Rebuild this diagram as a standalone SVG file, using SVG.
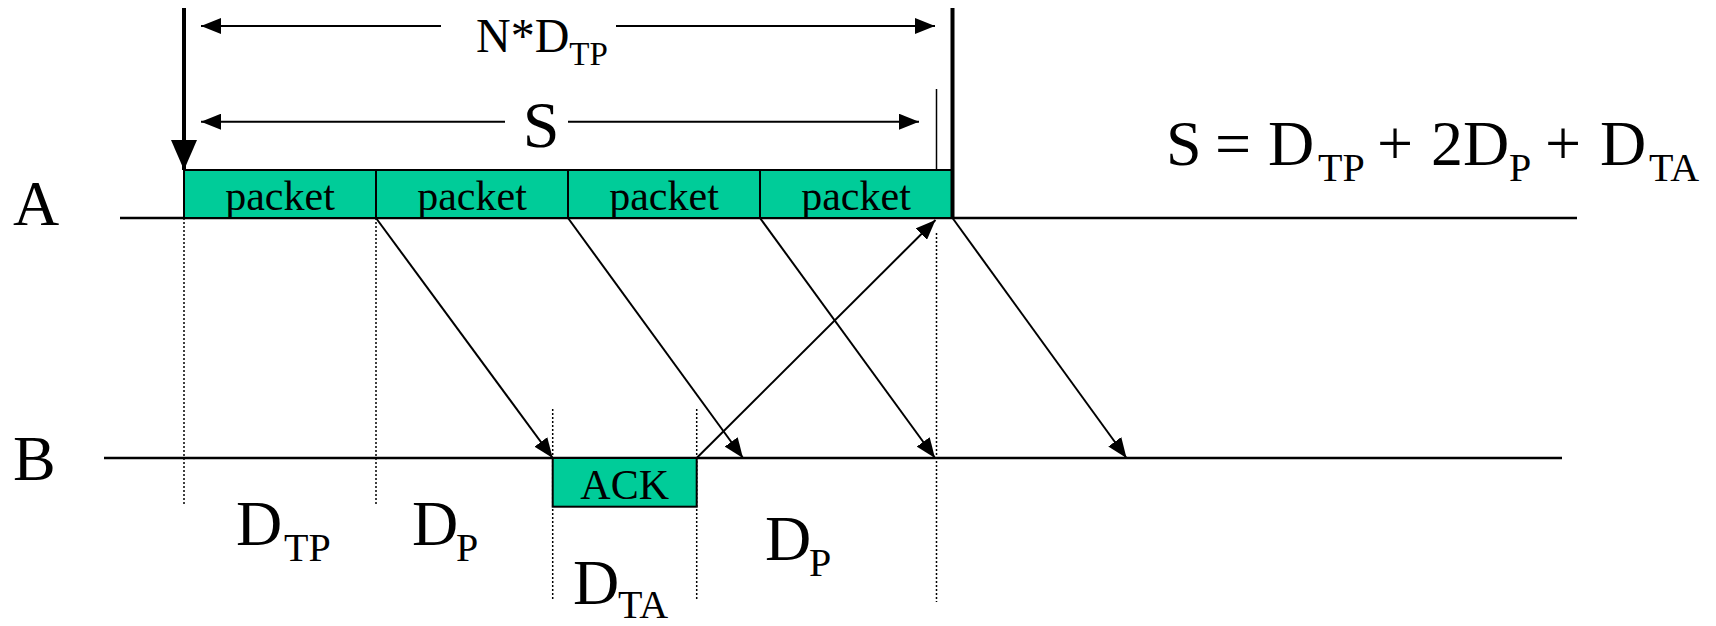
<svg xmlns="http://www.w3.org/2000/svg" width="1716" height="626" viewBox="0 0 1716 626">
<style>
text{font-family:"Liberation Serif","Times New Roman",serif;fill:#000}
.lbl{font-size:64px}
.sub{font-size:40px}
.box{fill:#00CC99;stroke:#000;stroke-width:2}
.btxt{font-size:42px;text-anchor:middle}
.axis{stroke:#000;stroke-width:2.5;fill:none}
.dot{stroke:#000;stroke-width:1.5;stroke-dasharray:2 2;fill:none}
.arr{stroke:#000;stroke-width:2;fill:none;marker-end:url(#ah)}
.dim{stroke:#000;stroke-width:2;fill:none}
</style>
<defs>
<marker id="ah" markerUnits="userSpaceOnUse" markerWidth="20" markerHeight="16" viewBox="0 0 20 16" refX="20" refY="8" orient="auto-start-reverse">
<path d="M0,0 L20,8 L0,16 z" fill="#000"/>
</marker>
<marker id="big" markerUnits="userSpaceOnUse" markerWidth="30" markerHeight="26" viewBox="0 0 30 26" refX="30" refY="13" orient="auto">
<path d="M0,0 L30,13 L0,26 z" fill="#000"/>
</marker>
</defs>

<g id="timelines">
<line class="axis" x1="120" y1="218" x2="1577" y2="218"/>
<line class="axis" x1="104" y1="458" x2="1562" y2="458"/>
<text class="lbl" x="13" y="225">A</text>
<text class="lbl" x="13" y="480">B</text>
</g>

<g id="guides">
<line class="dot" x1="184" y1="218" x2="184" y2="505"/>
<line class="dot" x1="376" y1="218" x2="376" y2="505"/>
<line class="dot" x1="552.7" y1="409" x2="552.7" y2="599"/>
<line class="dot" x1="696.7" y1="409" x2="696.7" y2="599"/>
<line class="dot" x1="936.5" y1="233" x2="936.5" y2="602"/>
<line stroke="#000" stroke-width="1.5" x1="936.5" y1="89" x2="936.5" y2="170"/>
</g>

<g id="packet1"><rect class="box" x="184" y="170" width="192" height="48"/><text class="btxt" x="280" y="210">packet</text></g>
<g id="packet2"><rect class="box" x="376" y="170" width="192" height="48"/><text class="btxt" x="472" y="210">packet</text></g>
<g id="packet3"><rect class="box" x="568" y="170" width="192" height="48"/><text class="btxt" x="664" y="210">packet</text></g>
<g id="packet4"><rect class="box" x="760" y="170" width="192" height="48"/><text class="btxt" x="856" y="210">packet</text></g>
<g id="ack"><rect class="box" x="552.7" y="458" width="144" height="48.7"/><text class="btxt" x="624.7" y="499">ACK</text></g>

<g id="connectors">
<line stroke="#000" stroke-width="4" x1="184" y1="8" x2="184" y2="170" marker-end="url(#big)"/>
<line stroke="#000" stroke-width="4" x1="952.5" y1="8" x2="952.5" y2="219"/>
<line class="arr" x1="376" y1="218" x2="552.7" y2="458"/>
<line class="arr" x1="568" y1="218" x2="743" y2="458"/>
<line class="arr" x1="760" y1="218" x2="935" y2="458"/>
<line class="arr" x1="952.5" y1="218" x2="1126.5" y2="458"/>
<line class="arr" x1="696.7" y1="458" x2="935.5" y2="220"/>
<line class="dim" x1="441" y1="26" x2="201" y2="26" marker-end="url(#ah)"/>
<line class="dim" x1="616" y1="26" x2="935" y2="26" marker-end="url(#ah)"/>
<line class="dim" x1="505" y1="121.7" x2="201" y2="121.7" marker-end="url(#ah)"/>
<line class="dim" x1="568" y1="121.7" x2="919" y2="121.7" marker-end="url(#ah)"/>
</g>

<g id="dim-labels">
<text x="476" y="52" font-size="48">N*D<tspan font-size="33" dy="13">TP</tspan></text>
<text x="541" y="147" font-size="66" text-anchor="middle">S</text>
</g>

<g id="formula">
<text class="lbl" x="1166" y="165">S</text>
<text class="lbl" x="1215" y="165">=</text>
<text class="lbl" x="1268" y="165">D</text>
<text class="sub" x="1318" y="181">TP</text>
<text class="lbl" x="1377" y="165">+</text>
<text class="lbl" x="1431" y="165">2D</text>
<text class="sub" x="1509" y="181">P</text>
<text class="lbl" x="1545" y="165">+</text>
<text class="lbl" x="1600" y="165">D</text>
<text class="sub" x="1649" y="181">TA</text>
</g>

<g id="interval-labels">
<text class="lbl" x="236" y="545">D<tspan class="sub" x="284" y="561">TP</tspan></text>
<text class="lbl" x="412" y="545">D<tspan class="sub" x="456" y="561">P</tspan></text>
<text class="lbl" x="573" y="604">D<tspan class="sub" x="618" y="618">TA</tspan></text>
<text class="lbl" x="765" y="560">D<tspan class="sub" x="809" y="576">P</tspan></text>
</g>
</svg>
